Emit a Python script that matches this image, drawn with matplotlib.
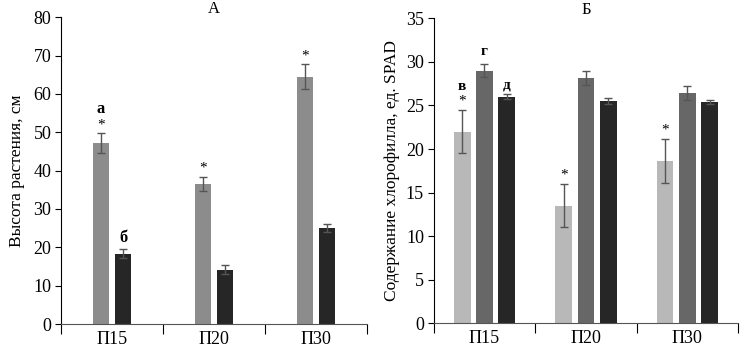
import numpy as np
import matplotlib
matplotlib.use("Agg")
from matplotlib import pyplot as plt

plt.rcParams['font.family'] = ['Liberation Serif', 'DejaVu Serif']
plt.rcParams['font.size'] = 13

# данные
groups = ["П15", "П20", "П30"]

# А - высота растения, см
height_a1 = [47.2, 36.5, 64.5]
height_a1_err = [2.6, 1.9, 3.2]
height_a2 = [18.4, 14.2, 25.1]
height_a2_err = [1.1, 1.1, 1.0]

# Б - содержание хлорофилла, ед. SPAD
spad_1 = [22.0, 13.5, 18.6]
spad_1_err = [2.5, 2.5, 2.5]
spad_2 = [29.0, 28.1, 26.4]
spad_2_err = [0.8, 0.8, 0.8]
spad_3 = [26.0, 25.5, 25.4]
spad_3_err = [0.3, 0.3, 0.2]

fig = plt.figure(figsize=(7.44, 3.5), dpi=100)
ax1 = fig.add_axes([0.082, 0.074, 0.411, 0.877])
ax2 = fig.add_axes([0.583, 0.076, 0.409, 0.872])

x = np.arange(len(groups))
w = 0.155
err_kw = dict(ecolor="#555555", capsize=3, elinewidth=1, capthick=1)


def style_axes(ax, ymax, ystep):
    ax.spines["top"].set_visible(False)
    ax.spines["right"].set_visible(False)
    ax.spines["left"].set_color("black")
    ax.spines["bottom"].set_color("#555555")
    ax.set_xlim(-0.5, 2.5)
    ax.set_ylim(0, ymax)
    ax.set_yticks(np.arange(0, ymax + 1, ystep))
    ax.set_xticks([-0.5, 0.5, 1.5, 2.5])
    ax.set_xticklabels([])
    ax.set_xticks(x, minor=True)
    ax.set_xticklabels(groups, minor=True)
    ax.tick_params(axis="x", which="major", length=7, color="black", direction="out")
    ax.tick_params(axis="x", which="minor", length=0, pad=5)
    ax.tick_params(axis="y", length=4, direction="out", pad=3)


# А
ax1.bar(x - 0.11, height_a1, w, yerr=height_a1_err, color="#8c8c8c", error_kw=err_kw)
ax1.bar(x + 0.11, height_a2, w, yerr=height_a2_err, color="#262626", error_kw=err_kw)
style_axes(ax1, 80, 10)
ax1.set_ylabel("Высота растения, см", fontsize=12.5, labelpad=6)
ax1.set_title("А", fontsize=12, pad=2)

for i in range(3):
    ax1.text(x[i] - 0.11, height_a1[i] + height_a1_err[i] + 0.5, "*",
             ha="center", va="bottom", fontsize=11)
ax1.text(x[0] - 0.11, height_a1[0] + height_a1_err[0] + 4.3, "а",
         ha="center", va="bottom", fontsize=12, fontweight="bold")
ax1.text(x[0] + 0.11, height_a2[0] + height_a2_err[0] + 0.8, "б",
         ha="center", va="bottom", fontsize=12, fontweight="bold")

# Б
ax2.bar(x - 0.22, spad_1, 0.165, yerr=spad_1_err, color="#b8b8b8", error_kw=err_kw)
ax2.bar(x, spad_2, 0.165, yerr=spad_2_err, color="#676767", error_kw=err_kw)
ax2.bar(x + 0.22, spad_3, 0.165, yerr=spad_3_err, color="#262626", error_kw=err_kw)
style_axes(ax2, 35, 5)
ax2.set_ylabel("Содержание хлорофилла, ед. SPAD", fontsize=12.5, labelpad=4)
ax2.set_title("Б", fontsize=12, pad=2)

for i in range(3):
    ax2.text(x[i] - 0.22, spad_1[i] + spad_1_err[i] + 0.3, "*",
             ha="center", va="bottom", fontsize=11)
ax2.text(x[0] - 0.22, spad_1[0] + spad_1_err[0] + 1.9, "в",
         ha="center", va="bottom", fontsize=11, fontweight="bold")
ax2.text(x[0], spad_2[0] + spad_2_err[0] + 0.6, "г",
         ha="center", va="bottom", fontsize=11, fontweight="bold")
ax2.text(x[0] + 0.22, spad_3[0] + spad_3_err[0] + 0.3, "д",
         ha="center", va="bottom", fontsize=11, fontweight="bold")

plt.savefig("out.png", dpi=100)
